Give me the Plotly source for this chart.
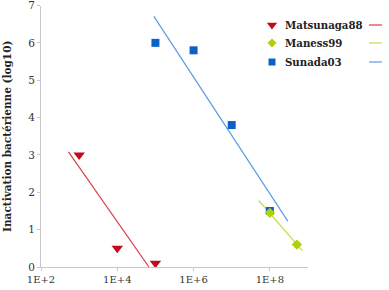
import plotly.graph_objects as go

W, H = 389, 290

# ---- data ----
series_names = ["Matsunaga88", "Maness99", "Sunada03"]

dose_matsunaga = [1e3, 1e4, 1e5]
inact_matsunaga = [3.0, 0.5, 0.1]
fit_matsunaga_x = [525, 67600]
fit_matsunaga_y = [3.08, 0.0]

dose_maness = [1e8, 5.1e8]
inact_maness = [1.45, 0.6]
fit_maness_x = [5.1e7, 7.1e8]
fit_maness_y = [1.78, 0.44]

dose_sunada = [1e5, 1e6, 1e7, 1e8]
inact_sunada = [6.0, 5.8, 3.8, 1.5]
fit_sunada_x = [9.1e4, 2.95e8]
fit_sunada_y = [6.71, 1.23]

x_tickvals = [1e2, 1e4, 1e6, 1e8]
x_ticktext = ["1E+2", "1E+4", "1E+6", "1E+8"]
y_tickvals = [0, 1, 2, 3, 4, 5, 6, 7]

# ---- style ----
marker_colors = ["#c10b1c", "#b2cf0a", "#0b62c4"]
line_colors = ["#d8404e", "#c8dc46", "#5b9cdc"]
symbols = ["triangle-down", "diamond", "square"]
msizes = [10, 8, 8]
FONT = "DejaVu Serif"

fig = go.Figure()

fits = [(fit_matsunaga_x, fit_matsunaga_y), (fit_maness_x, fit_maness_y), (fit_sunada_x, fit_sunada_y)]
pts = [(dose_matsunaga, inact_matsunaga), (dose_maness, inact_maness), (dose_sunada, inact_sunada)]

for i, (fx, fy) in enumerate(fits):
    fig.add_trace(go.Scatter(x=fx, y=fy, mode="lines", line=dict(color=line_colors[i], width=1.2),
                             showlegend=False, hoverinfo="skip", cliponaxis=False))
# draw order: Matsunaga, Sunada, Maness (diamonds on top)
for i in [0, 2, 1]:
    px, py = pts[i]
    fig.add_trace(go.Scatter(x=px, y=py, mode="markers", name=series_names[i],
                             marker=dict(symbol=symbols[i], size=msizes[i], color=marker_colors[i], line=dict(width=0)),
                             showlegend=False, cliponaxis=False))

# ---- custom legend (overlay pixel axes) ----
leg_x_marker = 272
leg_x_text = 283
leg_rows = [25, 43, 62]
for i, name in enumerate(series_names):
    fig.add_trace(go.Scatter(x=[leg_x_marker], y=[leg_rows[i]], mode="markers", xaxis="x2", yaxis="y2",
                             marker=dict(symbol=symbols[i], size=msizes[i] - 1, color=marker_colors[i], line=dict(width=0)),
                             showlegend=False, hoverinfo="skip", cliponaxis=False))
    fig.add_annotation(x=leg_x_text, y=leg_rows[i], xref="x2", yref="y2", text="<b>" + name + "</b>", showarrow=False,
                       xanchor="left", yanchor="middle", font=dict(family=FONT, size=10.2, color="#222"))
    fig.add_shape(type="line", xref="x2", yref="y2", x0=369, x1=382, y0=leg_rows[i], y1=leg_rows[i],
                  line=dict(color=line_colors[i], width=1.2))

axis_col = "#c8c8c8"
fig.update_layout(
    width=W, height=H,
    margin=dict(l=0, r=0, t=0, b=0),
    paper_bgcolor="white", plot_bgcolor="rgba(0,0,0,0)",
    showlegend=False,
    font=dict(family=FONT, size=10, color="#333"),
    xaxis=dict(type="log", range=[2, 9], domain=[41 / W, 308 / W], tickvals=x_tickvals, ticktext=x_ticktext,
               showgrid=False, zeroline=False, showline=True, linecolor=axis_col, linewidth=1,
               ticks="outside", ticklen=3, tickcolor=axis_col, tickfont=dict(family=FONT, size=10, color="#333"),
               anchor="y", automargin=False, ticklabeloverflow="allow"),
    yaxis=dict(range=[0, 7], domain=[(H - 267) / H, (H - 5.5) / H], tickvals=y_tickvals,
               showgrid=False, zeroline=False, showline=True, linecolor=axis_col, linewidth=1,
               ticks="outside", ticklen=3, tickcolor=axis_col, tickfont=dict(family=FONT, size=10.5, color="#333"),
               title=dict(text="<b>Inactivation bactérienne (log10)</b>", font=dict(family=FONT, size=10.5, color="#222"),
                          standoff=14),
               anchor="x", automargin=False, ticklabeloverflow="allow"),
    xaxis2=dict(domain=[0, 1], range=[0, W], visible=False, anchor="y2", fixedrange=True),
    yaxis2=dict(domain=[0, 1], range=[H, 0], visible=False, anchor="x2", fixedrange=True),
)

fig.write_html("out.html")
